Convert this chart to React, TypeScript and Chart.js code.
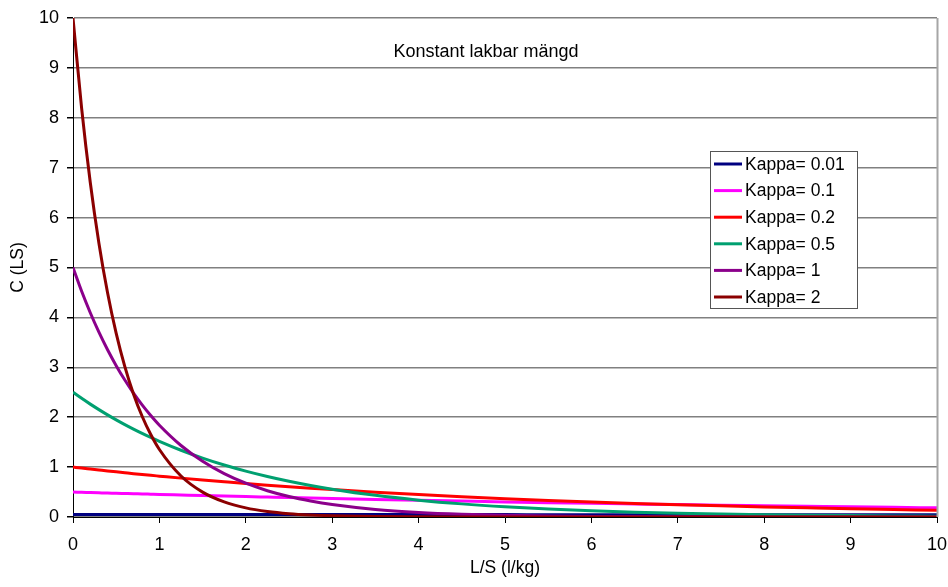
import React, { useEffect, useRef } from "react";
import { Chart, registerables } from "chart.js";

Chart.register(...registerables);

const xValues = [0, 0.1, 0.2, 0.3, 0.4, 0.5, 0.6, 0.7, 0.8, 0.9, 1, 1.25, 1.5, 1.75, 2, 2.25, 2.5, 2.75, 3, 3.5, 4, 4.5, 5, 5.5, 6, 6.5, 7, 7.5, 8, 8.5, 9, 9.5, 10];

const kappa001 = [0.05, 0.05, 0.0499, 0.0499, 0.0498, 0.0498, 0.0497, 0.0497, 0.0496, 0.0496, 0.0495, 0.0494, 0.0493, 0.0491, 0.049, 0.0489, 0.0488, 0.0486, 0.0485, 0.0483, 0.048, 0.0478, 0.0476, 0.0473, 0.0471, 0.0469, 0.0466, 0.0464, 0.0462, 0.0459, 0.0457, 0.0455, 0.0452];
const kappa01 = [0.5, 0.495, 0.49, 0.485, 0.48, 0.476, 0.471, 0.466, 0.462, 0.457, 0.452, 0.441, 0.43, 0.42, 0.409, 0.399, 0.389, 0.38, 0.37, 0.352, 0.335, 0.319, 0.303, 0.288, 0.274, 0.261, 0.248, 0.236, 0.225, 0.214, 0.203, 0.193, 0.184];
const kappa02 = [1.0, 0.98, 0.961, 0.942, 0.923, 0.905, 0.887, 0.869, 0.852, 0.835, 0.819, 0.779, 0.741, 0.705, 0.67, 0.638, 0.607, 0.577, 0.549, 0.497, 0.449, 0.407, 0.368, 0.333, 0.301, 0.273, 0.247, 0.223, 0.202, 0.183, 0.165, 0.15, 0.135];
const kappa05 = [2.5, 2.378, 2.262, 2.152, 2.047, 1.947, 1.852, 1.762, 1.676, 1.594, 1.516, 1.338, 1.181, 1.042, 0.92, 0.812, 0.716, 0.632, 0.558, 0.434, 0.338, 0.263, 0.205, 0.16, 0.124, 0.097, 0.075, 0.059, 0.046, 0.036, 0.028, 0.022, 0.017];
const kappa1 = [5.0, 4.524, 4.094, 3.704, 3.352, 3.033, 2.744, 2.483, 2.247, 2.033, 1.839, 1.433, 1.116, 0.869, 0.677, 0.527, 0.41, 0.32, 0.249, 0.151, 0.092, 0.056, 0.034, 0.02, 0.012, 0.008, 0.005, 0.003, 0.002, 0.001, 0.001, 0.0, 0.0];
const kappa2 = [10.0, 8.187, 6.703, 5.488, 4.493, 3.679, 3.012, 2.466, 2.019, 1.653, 1.353, 0.821, 0.498, 0.302, 0.183, 0.111, 0.067, 0.041, 0.025, 0.009, 0.003, 0.001, 0.0, 0.0, 0.0, 0.0, 0.0, 0.0, 0.0, 0.0, 0.0, 0.0, 0.0];

const seriesLabels = ["Kappa= 0.01", "Kappa= 0.1", "Kappa= 0.2", "Kappa= 0.5", "Kappa= 1", "Kappa= 2"];
const seriesValues = [kappa001, kappa01, kappa02, kappa05, kappa1, kappa2];
const seriesColors = ["#000080", "#FF00FF", "#FF0000", "#00A070", "#8B008B", "#8B0000"];

const chartTitle = "Konstant lakbar mängd";
const xAxisTitle = "L/S (l/kg)";
const yAxisTitle = "C (LS)";

const FONT = "'Liberation Sans', Arial, sans-serif";

const overlayPlugin = {
  id: "overlay",
  afterDraw(chart: any) {
    const ctx = chart.ctx;
    const area = chart.chartArea;
    ctx.save();
    // right border
    ctx.strokeStyle = "#a6a6a6";
    ctx.lineWidth = 2;
    ctx.beginPath();
    ctx.moveTo(area.right + 0.5, area.top);
    ctx.lineTo(area.right + 0.5, area.bottom);
    ctx.stroke();

    // title inside plot
    ctx.fillStyle = "#000";
    ctx.font = `18px ${FONT}`;
    ctx.textAlign = "center";
    ctx.textBaseline = "middle";
    ctx.fillText(chartTitle, area.left + (area.right - area.left) * 0.478, area.top + 34);

    // legend box
    const bx = 710.5, by = 151.5, bw = 147, bh = 157;
    ctx.fillStyle = "#fff";
    ctx.fillRect(bx, by, bw, bh);
    ctx.strokeStyle = "#555";
    ctx.lineWidth = 1;
    ctx.strokeRect(bx, by, bw, bh);
    const datasets = chart.data.datasets;
    ctx.font = `17.5px ${FONT}`;
    ctx.textAlign = "left";
    ctx.textBaseline = "middle";
    for (let i = 0; i < datasets.length; i++) {
      const cy = 164 + i * 26.6;
      ctx.strokeStyle = datasets[i].borderColor;
      ctx.lineWidth = 3;
      ctx.beginPath();
      ctx.moveTo(714, cy);
      ctx.lineTo(742, cy);
      ctx.stroke();
      ctx.fillStyle = "#000";
      ctx.fillText(datasets[i].label, 745, cy + 1);
    }
    ctx.restore();
  },
};

export default function App() {
  const canvasRef = useRef<HTMLCanvasElement | null>(null);

  useEffect(() => {
    document.body.style.margin = "0";
    const canvas = canvasRef.current;
    if (!canvas) return;
    const datasets = seriesValues.map((vals, i) => ({
      label: seriesLabels[i],
      data: vals.map((v, j) => ({ x: xValues[j], y: v })),
      borderColor: seriesColors[i],
      backgroundColor: seriesColors[i],
      borderWidth: 3,
      pointRadius: 0,
      fill: false,
      cubicInterpolationMode: "monotone" as const,
      order: seriesValues.length - i,
    }));
    const chart = new Chart(canvas, {
      type: "line",
      data: { datasets },
      options: {
        responsive: false,
        animation: false,
        devicePixelRatio: 1,
        layout: { padding: { top: 18, right: 11, left: 0, bottom: 0 } },
        plugins: {
          legend: { display: false },
          tooltip: { enabled: false },
          title: { display: false },
        },
        scales: {
          x: {
            type: "linear",
            min: 0,
            max: 10,
            ticks: {
              stepSize: 1,
              color: "#000",
              font: { family: FONT, size: 18 },
              padding: 11,
              maxRotation: 0,
            },
            grid: {
              drawOnChartArea: false,
              drawTicks: true,
              tickLength: 6,
              color: "#000",
            },
            border: { color: "#000", width: 1 },
            title: {
              display: true,
              text: xAxisTitle,
              color: "#000",
              font: { family: FONT, size: 17.5 },
              padding: { top: 0, bottom: 8 },
            },
            afterFit(scale: any) {
              scale.height = 70;
              scale.paddingLeft = 0;
              scale.paddingRight = 0;
            },
          },
          y: {
            type: "linear",
            min: 0,
            max: 10,
            ticks: {
              stepSize: 1,
              color: "#000",
              font: { family: FONT, size: 18 },
              padding: 8,
            },
            grid: {
              color: "#808080",
              lineWidth: 1.5,
              tickColor: "#000",
              tickLength: 6,
            },
            border: { color: "#000", width: 1 },
            title: {
              display: true,
              text: yAxisTitle,
              color: "#000",
              font: { family: FONT, size: 17.5 },
              padding: { top: 8, bottom: 0 },
            },
            afterFit(scale: any) {
              scale.width = 73;
              scale.paddingTop = 0;
              scale.paddingBottom = 0;
            },
          },
        },
      },
      plugins: [overlayPlugin],
    });
    return () => {
      chart.destroy();
    };
  }, []);

  return (
    <div style={{ width: 948, height: 587, background: "#fff" }}>
      <canvas ref={canvasRef} width={948} height={587} style={{ display: "block" }} />
    </div>
  );
}
